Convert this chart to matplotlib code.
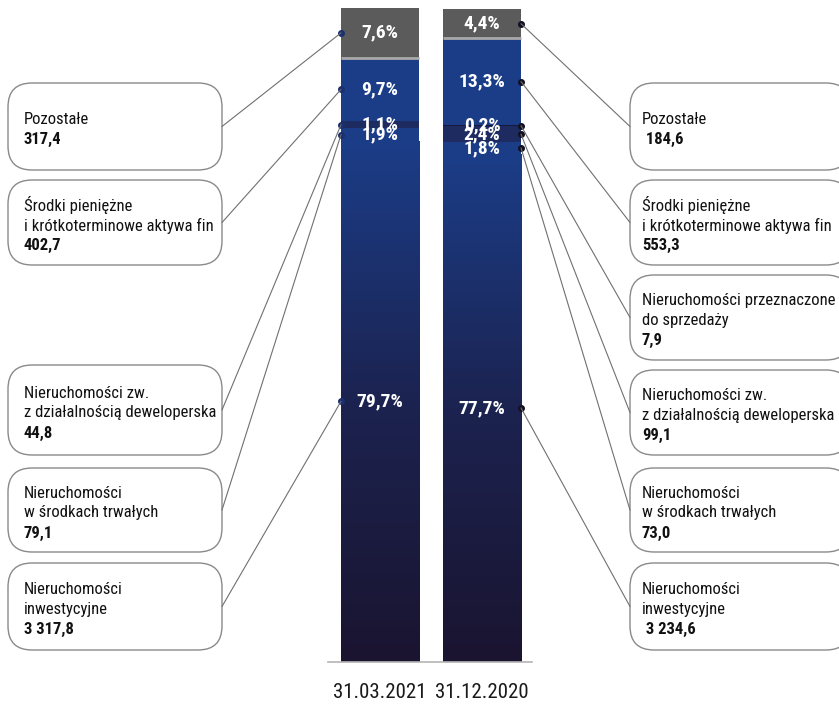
import numpy as np
import matplotlib.pyplot as plt
from matplotlib.patches import FancyBboxPatch, ConnectionPatch
from matplotlib.colors import LinearSegmentedColormap

plt.rcParams['font.family'] = ['Roboto Condensed', 'DejaVu Sans Condensed',
                               'Liberation Sans Narrow', 'DejaVu Sans']
plt.rcParams['font.stretch'] = 'condensed'

# dane (kolejnosc od dolu slupka)
daty = ['31.03.2021', '31.12.2020']
kategorie = ['inwestycyjne', 'trwale', 'deweloperska', 'sprzedaz', 'srodki', 'pozostale']
proc_2021 = [79.7, 1.9, 1.1, 0.0, 9.7, 7.6]
proc_2020 = [77.7, 1.8, 2.4, 0.2, 13.3, 4.4]

opisy = {
    'pozostale': ['Pozostałe'],
    'srodki': ['Środki pieniężne', 'i krótkoterminowe aktywa fin'],
    'sprzedaz': ['Nieruchomości przeznaczone', 'do sprzedaży'],
    'deweloperska': ['Nieruchomości zw.', 'z działalnością deweloperska'],
    'trwale': ['Nieruchomości', 'w środkach trwałych'],
    'inwestycyjne': ['Nieruchomości', 'inwestycyjne'],
}
wartosci_2021 = {'pozostale': '317,4', 'srodki': '402,7', 'deweloperska': '44,8',
                 'trwale': '79,1', 'inwestycyjne': '3 317,8'}
wartosci_2020 = {'pozostale': ' 184,6', 'srodki': '553,3', 'sprzedaz': '7,9',
                 'deweloperska': '99,1', 'trwale': '73,0', 'inwestycyjne': ' 3 234,6'}

kolory = {'inwestycyjne': '#1b3d88', 'trwale': '#1b3d88', 'deweloperska': '#1d2b60',
          'sprzedaz': '#15183a', 'srodki': '#1b3d88', 'pozostale': '#5b5b5b'}

W, H = 839, 707
fig = plt.figure(figsize=(W / 100, H / 100), dpi=100)

# os slupkow
ax = fig.add_axes([328 / W, (H - 662) / H, 204 / W, 654 / H])
for s in ['top', 'right', 'left']:
    ax.spines[s].set_visible(False)
ax.spines['bottom'].set_color('#b5b5b5')
ax.spines['bottom'].set_linewidth(1.2)
ax.set_yticks([])
ax.set_xticks([0, 1])
ax.set_xticklabels(daty, fontsize=15, color='#1a1a1a')
ax.tick_params(axis='x', length=0, pad=15)

szer = 0.765
gradient = LinearSegmentedColormap.from_list('g', ['#1a1430', '#1c2350', '#1b3d88'])
srodki_seg = {}
for i, proc in enumerate([proc_2021, proc_2020]):
    dol = 0
    for kat, p in zip(kategorie, proc):
        if p == 0:
            continue
        b = ax.bar(i, p, bottom=dol, width=szer, color=kolory[kat], linewidth=0)[0]
        if kat == 'inwestycyjne':
            img = ax.imshow(np.linspace(0, 1, 256).reshape(-1, 1), cmap=gradient,
                            extent=[i - szer / 2, i + szer / 2, dol, dol + p],
                            origin='lower', aspect='auto', zorder=b.get_zorder())
            img.set_clip_path(b)
        srodki_seg[(i, kat)] = dol + p / 2
        dol += p
    # jasna linia pod szarym segmentem
    ax.hlines(dol - proc[-1], i - szer / 2, i + szer / 2, color='#a9a9a9', lw=2, zorder=5)

for i, proc in enumerate([proc_2021, proc_2020]):
    for kat, p in zip(kategorie, proc):
        if p == 0:
            continue
        y = srodki_seg[(i, kat)]
        ax.text(i, y, f'{p:.1f}%'.replace('.', ','), color='white', fontsize=14,
                fontweight='bold', ha='center', va='center', zorder=6)

ax.set_xlim(-0.51, 1.49)
ax.set_ylim(0, 100)

# os nakladki w pikselach
ov = fig.add_axes([0, 0, 1, 1], zorder=-1)
ov.set_xlim(0, W)
ov.set_ylim(H, 0)
ov.axis('off')

ramki_lewe = {'pozostale': (83, 170), 'srodki': (180, 265), 'deweloperska': (365, 455),
              'trwale': (468, 552), 'inwestycyjne': (563, 650)}
ramki_prawe = {'pozostale': (83, 170), 'srodki': (180, 265), 'sprzedaz': (275, 360),
               'deweloperska': (370, 455), 'trwale': (468, 552), 'inwestycyjne': (563, 650)}


def ramka(x0, x1, y0, y1, linie, wartosc, wciecie):
    ov.add_patch(FancyBboxPatch((x0, y0), x1 - x0, y1 - y0,
                                boxstyle='round,pad=0,rounding_size=24',
                                fc='white', ec='#8a8a8a', lw=1))
    n = len(linie) + 1
    yc = (y0 + y1) / 2 + 3
    for k, t in enumerate(linie + [wartosc]):
        yy = yc + (k - (n - 1) / 2) * 20
        ov.text(x0 + wciecie, yy, t, fontsize=12, ha='left', va='center', color='#111111',
                fontweight='bold' if k == n - 1 else 'normal')


for kat, (y0, y1) in ramki_lewe.items():
    ramka(8, 222, y0, y1, opisy[kat], wartosci_2021[kat], 16)
    y = srodki_seg[(0, kat)]
    ax.plot(-szer / 2, y, 'o', ms=4, color='#1c2f6e', clip_on=False, zorder=7)
    fig.add_artist(ConnectionPatch((222, (y0 + y1) / 2), (-szer / 2, y),
                                   coordsA=ov.transData, coordsB=ax.transData,
                                   color='#707070', lw=0.8))

for kat, (y0, y1) in ramki_prawe.items():
    ramka(630, 850, y0, y1, opisy[kat], wartosci_2020[kat], 12)
    y = srodki_seg[(1, kat)]
    ax.plot(1 + szer / 2, y, 'o', ms=4, color='#111122', clip_on=False, zorder=7)
    fig.add_artist(ConnectionPatch((630, (y0 + y1) / 2), (1 + szer / 2, y),
                                   coordsA=ov.transData, coordsB=ax.transData,
                                   color='#707070', lw=0.8))

fig.savefig('out.png', dpi=100)
